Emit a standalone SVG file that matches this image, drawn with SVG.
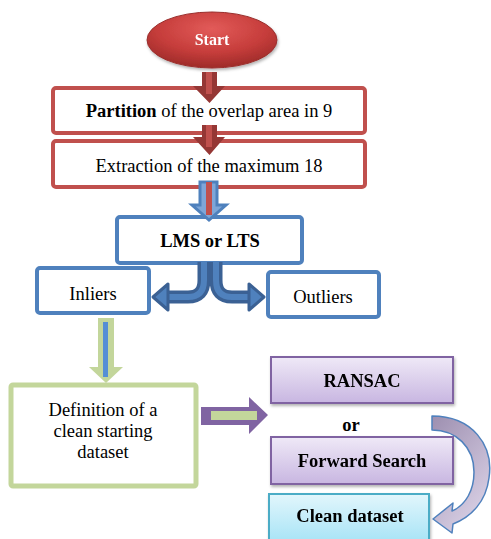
<svg xmlns="http://www.w3.org/2000/svg" width="491" height="539" viewBox="0 0 491 539" font-family="'Liberation Serif', 'Times New Roman', serif">
<defs>
<radialGradient id="gStart" cx="0.5" cy="0.3" r="0.7">
<stop offset="0" stop-color="#e25b59"/>
<stop offset="0.6" stop-color="#c63d3b"/>
<stop offset="1" stop-color="#9e2b29"/>
</radialGradient>
<linearGradient id="gPurple" x1="0" y1="0" x2="0" y2="1">
<stop offset="0" stop-color="#efe9f7"/>
<stop offset="1" stop-color="#c8b6e1"/>
</linearGradient>
<linearGradient id="gCyan" x1="0" y1="0" x2="0" y2="1">
<stop offset="0" stop-color="#e2f6fc"/>
<stop offset="1" stop-color="#a5e3f6"/>
</linearGradient>
<linearGradient id="gCurve" x1="0" y1="0" x2="0.6" y2="1">
<stop offset="0" stop-color="#9d8fb0"/>
<stop offset="1" stop-color="#d8cfe4"/>
</linearGradient>
<filter id="sh" x="-20%" y="-20%" width="140%" height="150%">
<feDropShadow dx="1" dy="2" stdDeviation="1.5" flood-color="#000" flood-opacity="0.3"/>
</filter>
</defs>
<style>
.t{font-family:'Liberation Serif','Times New Roman',serif;font-size:18.5px;fill:#000;text-anchor:middle}
.b{font-weight:bold}
.red{fill:#fff;stroke:#c0504d;stroke-width:4}
.blue{fill:#fff;stroke:#4f81bd;stroke-width:4}
.green{fill:#fff;stroke:#c3d69b;stroke-width:5}
.purple{fill:url(#gPurple);stroke:#8064a2;stroke-width:2}
</style>

<g id="start" filter="url(#sh)">
<ellipse cx="212" cy="40" rx="65" ry="28" fill="url(#gStart)" stroke="#9a2f2d" stroke-width="1"/>
<text x="212" y="45" class="t b" style="font-size:16px;fill:#fff">Start</text>
</g>

<g id="partition">
<rect x="53" y="88" width="312" height="45" rx="3" class="red"/>
<text x="209" y="117" class="t"><tspan class="b">Partition</tspan> of the overlap area in 9</text>
</g>

<g id="extraction">
<rect x="53" y="141" width="312" height="46" rx="3" class="red"/>
<text x="209" y="172" class="t">Extraction of the maximum 18</text>
</g>

<g id="lms">
<rect x="117" y="217" width="185" height="46" rx="3" class="blue"/>
<text x="210" y="247" class="t b">LMS or LTS</text>
</g>

<g id="inliers">
<rect x="37" y="268" width="112" height="45" rx="3" class="blue"/>
<text x="93" y="300" class="t">Inliers</text>
</g>

<g id="outliers">
<rect x="268" y="272" width="111" height="45" rx="3" class="blue"/>
<text x="323" y="303" class="t">Outliers</text>
</g>

<g id="definition">
<rect x="11" y="385" width="185" height="101" rx="2" class="green"/>
<text class="t"><tspan x="103" y="416">Definition of a</tspan><tspan x="103" y="437">clean starting</tspan><tspan x="103" y="458">dataset</tspan></text>
</g>

<g id="ransac" filter="url(#sh)">
<rect x="271" y="357" width="182" height="46" class="purple"/>
<text x="362" y="387" class="t b">RANSAC</text>
</g>

<g id="or">
<text x="351" y="431" class="t b">or</text>
</g>

<g id="forward" filter="url(#sh)">
<rect x="271" y="437" width="182" height="47" class="purple"/>
<text x="362" y="467" class="t b">Forward Search</text>
</g>

<g id="clean" filter="url(#sh)">
<rect x="269" y="494" width="160" height="50" fill="url(#gCyan)" stroke="#4bacc6" stroke-width="2"/>
<text x="350" y="522" class="t b">Clean dataset</text>
</g>

<g id="connectors">
<polygon points="202,72 217,72 217,86 225,86 209.5,103 193,86 202,86" fill="#953735"/>
<rect x="206" y="72" width="6" height="22" fill="#c0504d"/>
<polygon points="202,125 217,125 217,137 225,137 209.5,155 193,137 202,137" fill="#953735"/>
<rect x="206" y="125" width="6" height="22" fill="#c0504d"/>
<polygon points="200,182 217,182 217,205 226,205 209,220 192,205 200,205" fill="#7ea6d8" stroke="#4f81bd" stroke-width="3" stroke-linejoin="miter"/>
<rect x="206" y="182" width="6" height="33" fill="#c0504d"/>
<g fill="none" stroke-linejoin="round">
<path d="M204,262 V280 Q204,297 188,297 H166" stroke="#3b6194" stroke-width="13"/>
<path d="M216,262 V280 Q216,297 232,297 H250" stroke="#3b6194" stroke-width="13"/>
<path d="M204,262 V280 Q204,297 188,297 H166" stroke="#4f81bd" stroke-width="6"/>
<path d="M216,262 V280 Q216,297 232,297 H250" stroke="#4f81bd" stroke-width="6"/>
</g>
<polygon points="168,284 168,310 153,297" fill="#4f81bd" stroke="#3b6194" stroke-width="3" stroke-linejoin="round"/>
<polygon points="249,284 249,310 264,297" fill="#4f81bd" stroke="#3b6194" stroke-width="3" stroke-linejoin="round"/>
<polygon points="98,318 114,318 114,367 123,367 106,383 89,367 98,367" fill="#c3d69b"/>
<rect x="103" y="322" width="5" height="55" fill="#558ed5"/>
<polygon points="201,407 249,407 249,397 268,415 249,434 249,425 201,425" fill="#8064a2"/>
<rect x="211" y="411" width="46" height="9" fill="#c3d69b"/>
<path d="M432,416 C472,416 494,445 489,478 C486,502 471,517 453,524 L452,533 L433,519 L453,503 L452,511 C466,505 474,490 474,472 C474,447 456,430 432,430 Z" fill="url(#gCurve)" stroke="#4f81bd" stroke-width="1.5" stroke-linejoin="round"/>
</g>
</svg>
